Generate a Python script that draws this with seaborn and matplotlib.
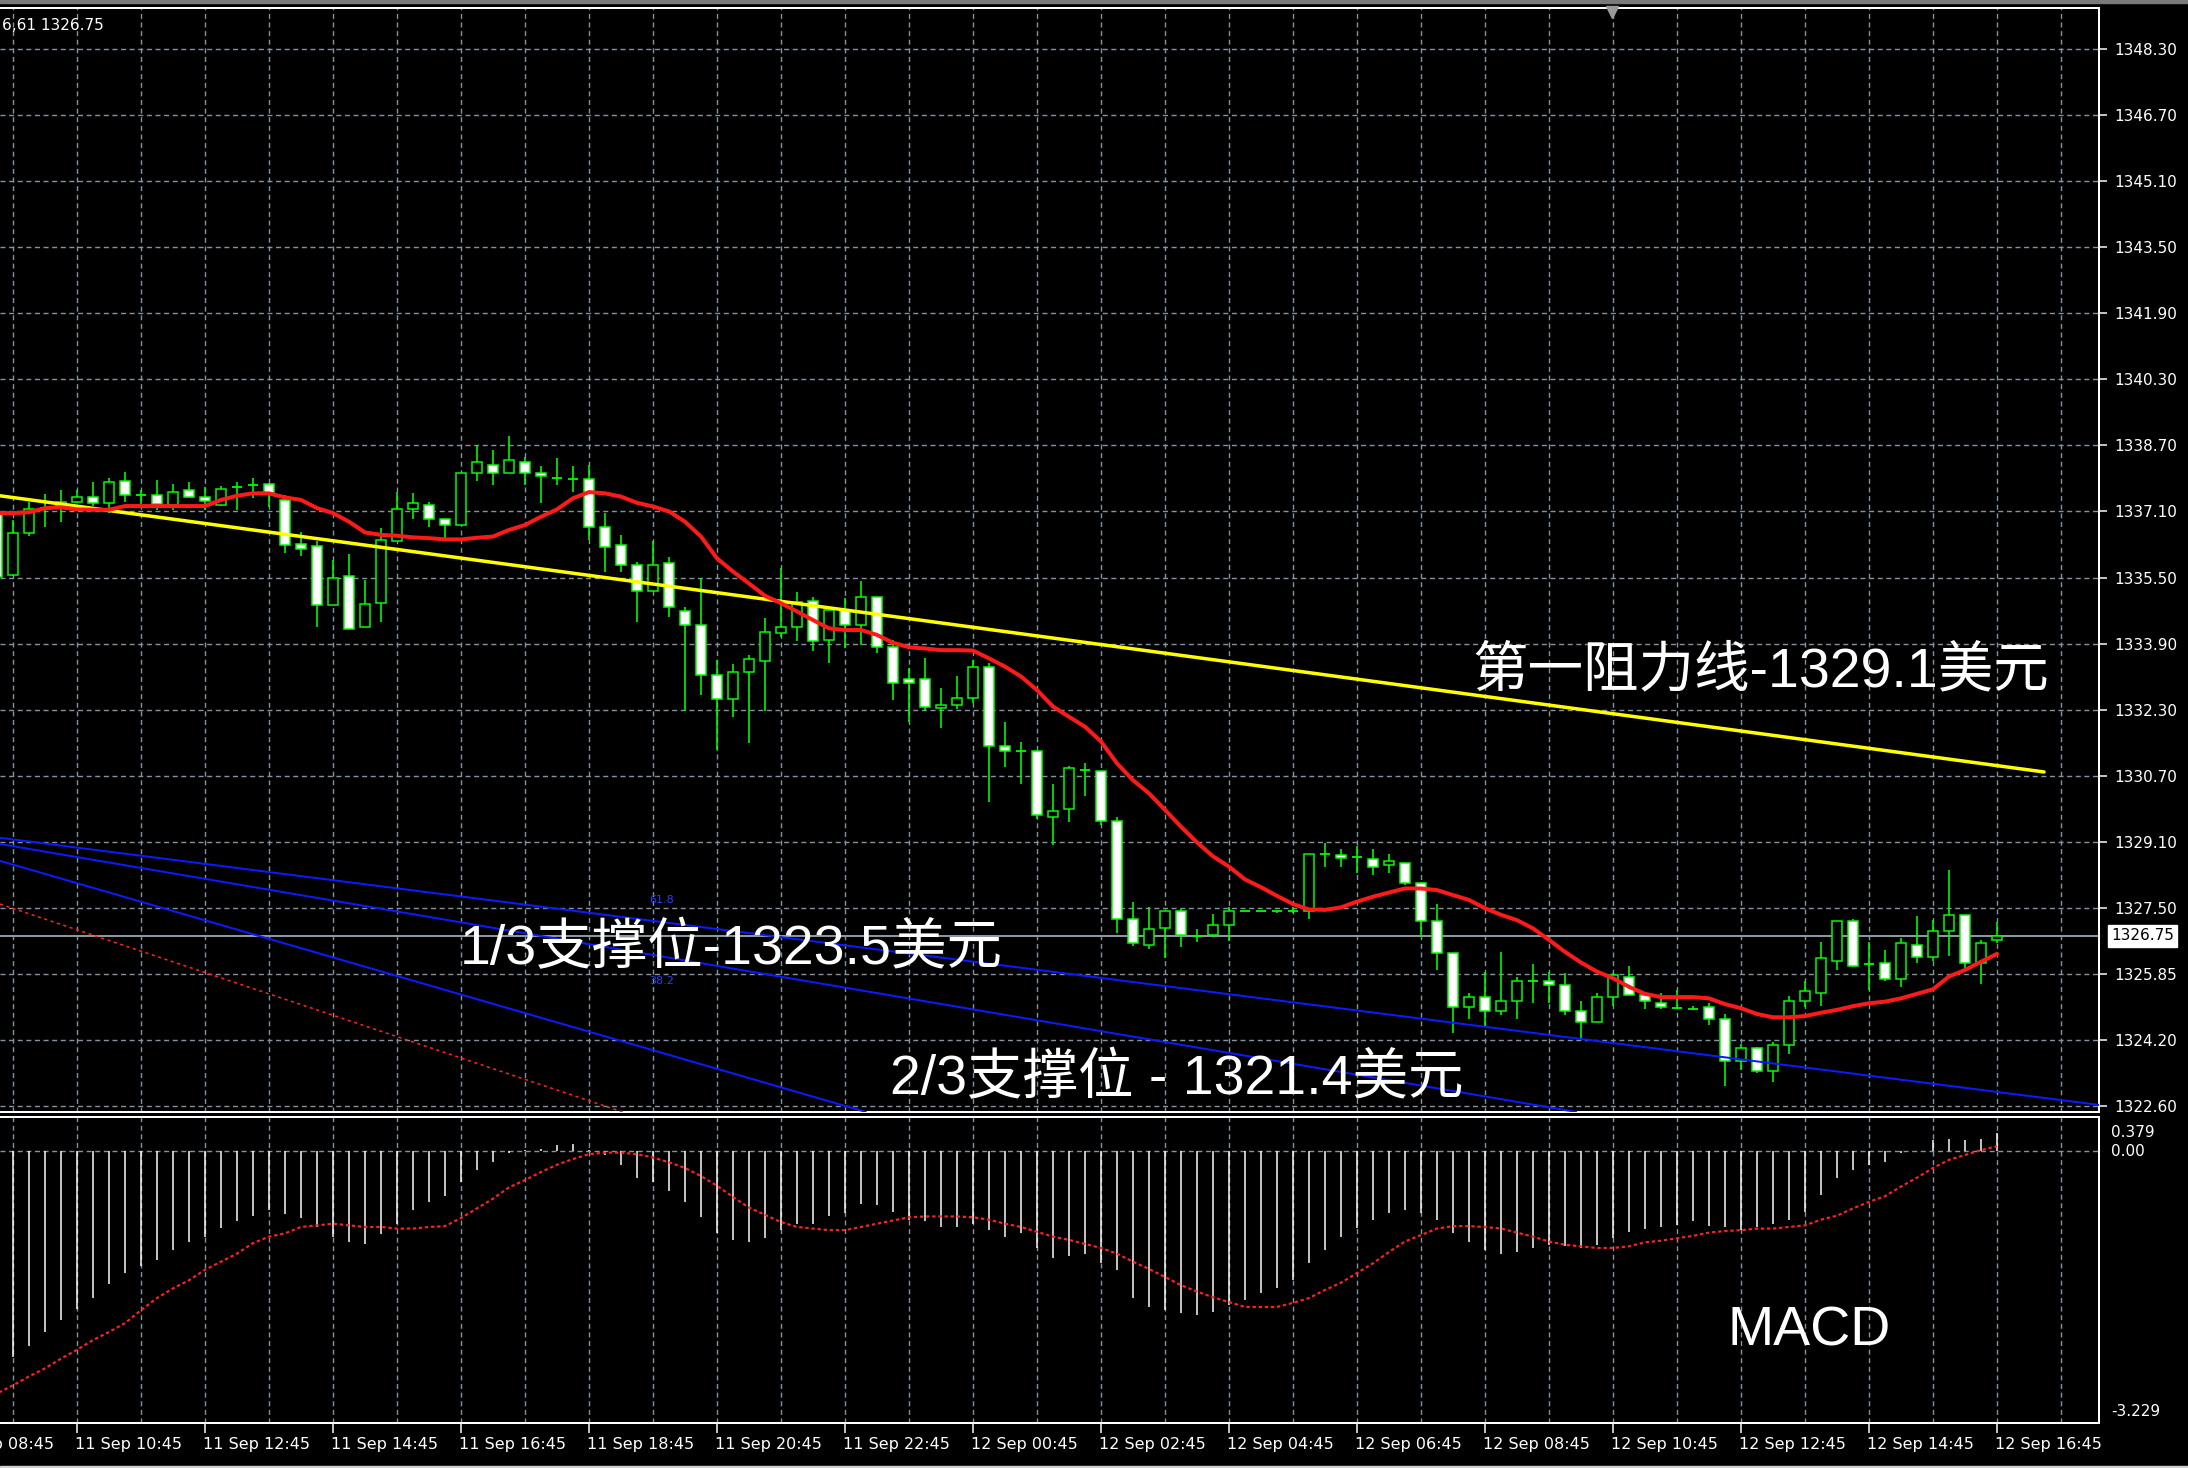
import numpy as np
import pandas as pd
import seaborn as sns
import matplotlib
matplotlib.use("Agg")
import matplotlib.pyplot as plt
from matplotlib import transforms
from matplotlib.patches import Rectangle

# ---------------- data ----------------
bar_n = np.arange(3, 129)  # 15-minute bars, n=0 is 11 Sep 08:45

opens = [1337.00, 1335.52, 1336.53, 1337.15, 1337.20, 1337.30, 1337.42, 1337.26, 1337.81, 1337.45,
         1337.46, 1337.22, 1337.57, 1337.42, 1337.22, 1337.65, 1337.71, 1337.72, 1337.34, 1336.26,
         1336.21, 1334.79, 1335.48, 1334.25, 1334.83, 1336.35, 1337.11, 1337.22, 1336.87, 1336.73,
         1337.99, 1338.20, 1337.99, 1338.25, 1338.00, 1337.88, 1337.85, 1337.85, 1336.69, 1336.25,
         1335.76, 1335.13, 1335.80, 1334.64, 1334.30, 1333.09, 1332.50, 1333.15, 1333.43, 1334.10,
         1334.25, 1334.88, 1333.94, 1334.67, 1334.30, 1334.97, 1333.77, 1333.00, 1333.00, 1332.28,
         1332.36, 1332.52, 1333.29, 1331.35, 1331.25, 1331.25, 1329.64, 1329.82, 1330.78, 1330.76,
         1329.54, 1327.16, 1326.53, 1326.93, 1327.36, 1326.75, 1326.77, 1327.01, 1327.36, 1327.36,
         1327.36, 1327.36, 1327.36, 1328.73, 1328.71, 1328.66, 1328.62, 1328.47, 1328.53, 1328.04,
         1327.12, 1326.34, 1325.01, 1325.27, 1324.93, 1325.17, 1325.66, 1325.65, 1325.55, 1324.92,
         1324.65, 1325.27, 1325.76, 1325.31, 1325.12, 1325.00, 1324.96, 1325.03, 1324.73, 1323.71,
         1324.02, 1323.47, 1324.10, 1325.17, 1325.35, 1326.14, 1327.12, 1326.06, 1326.10, 1325.69,
         1326.53, 1326.23, 1326.87, 1327.25, 1326.08, 1326.65]
highs = [1337.02, 1336.85, 1337.30, 1337.49, 1337.58, 1337.58, 1337.78, 1337.87, 1338.01, 1337.58,
         1337.83, 1337.72, 1337.77, 1337.66, 1337.68, 1337.78, 1337.87, 1337.74, 1337.46, 1336.55,
         1336.33, 1335.88, 1336.03, 1335.40, 1336.65, 1337.54, 1337.50, 1337.30, 1336.87, 1338.00,
         1338.68, 1338.55, 1338.89, 1338.39, 1338.17, 1338.35, 1338.17, 1338.19, 1337.03, 1336.49,
         1335.82, 1336.33, 1335.96, 1334.75, 1335.44, 1333.45, 1333.35, 1333.57, 1334.47, 1335.68,
         1335.10, 1334.99, 1334.67, 1334.95, 1335.38, 1334.97, 1333.94, 1333.25, 1333.49, 1332.76,
         1333.05, 1333.45, 1333.37, 1331.94, 1331.45, 1331.25, 1330.44, 1330.88, 1330.96, 1330.76,
         1329.64, 1327.58, 1327.46, 1327.36, 1327.39, 1326.92, 1327.27, 1327.46, 1327.36, 1327.36,
         1327.36, 1327.44, 1328.73, 1329.01, 1328.87, 1328.93, 1328.87, 1328.74, 1328.53, 1328.06,
         1327.52, 1326.34, 1325.37, 1325.88, 1326.35, 1325.76, 1326.06, 1325.88, 1325.85, 1325.17,
         1325.37, 1325.84, 1326.02, 1325.31, 1325.37, 1325.43, 1325.05, 1325.11, 1324.85, 1324.12,
         1324.06, 1324.18, 1325.29, 1325.64, 1326.61, 1327.12, 1327.17, 1326.61, 1326.40, 1326.69,
         1327.23, 1327.13, 1328.35, 1327.25, 1326.65, 1327.09]
lows = [1335.45, 1335.50, 1336.46, 1336.67, 1336.81, 1337.26, 1337.19, 1337.03, 1337.30, 1337.24,
        1337.10, 1337.10, 1337.38, 1337.10, 1337.19, 1337.10, 1337.38, 1337.16, 1336.04, 1335.98,
        1334.25, 1334.79, 1334.21, 1334.25, 1334.38, 1336.35, 1336.87, 1336.67, 1336.37, 1336.73,
        1337.79, 1337.69, 1337.99, 1337.69, 1337.26, 1337.69, 1337.54, 1336.37, 1335.60, 1335.60,
        1334.38, 1335.13, 1334.49, 1332.20, 1332.59, 1331.27, 1332.06, 1331.43, 1332.20, 1334.00,
        1333.90, 1333.66, 1333.37, 1333.73, 1333.81, 1333.61, 1332.49, 1331.95, 1332.20, 1331.81,
        1332.26, 1332.40, 1330.01, 1330.84, 1330.45, 1329.58, 1328.96, 1329.52, 1330.15, 1329.43,
        1326.81, 1326.51, 1326.42, 1326.20, 1326.47, 1326.61, 1326.72, 1326.63, 1327.36, 1327.36,
        1327.30, 1327.30, 1327.15, 1328.41, 1328.41, 1328.28, 1328.23, 1328.27, 1327.98, 1326.71,
        1325.93, 1324.38, 1324.72, 1324.56, 1324.83, 1324.72, 1325.11, 1325.11, 1324.83, 1324.23,
        1324.65, 1325.05, 1325.31, 1324.96, 1324.96, 1324.96, 1324.94, 1324.58, 1323.10, 1323.49,
        1323.41, 1323.20, 1323.89, 1325.03, 1325.05, 1325.92, 1325.98, 1325.43, 1325.64, 1325.50,
        1326.08, 1326.14, 1326.26, 1325.96, 1325.59, 1326.57]
closes = [1335.47, 1336.53, 1337.12, 1337.15, 1337.28, 1337.42, 1337.27, 1337.77, 1337.46, 1337.45,
          1337.24, 1337.52, 1337.42, 1337.32, 1337.61, 1337.65, 1337.71, 1337.50, 1336.25, 1336.14,
          1334.79, 1335.44, 1334.21, 1334.81, 1336.37, 1337.13, 1337.27, 1336.87, 1336.73, 1338.00,
          1338.25, 1338.00, 1338.30, 1338.00, 1337.91, 1337.88, 1337.85, 1336.68, 1336.19, 1335.76,
          1335.13, 1335.76, 1334.75, 1334.30, 1333.09, 1332.50, 1333.15, 1333.48, 1334.12, 1334.26,
          1334.87, 1333.92, 1334.67, 1334.30, 1334.99, 1333.77, 1332.88, 1332.90, 1332.32, 1332.36,
          1332.52, 1333.29, 1331.35, 1331.25, 1331.25, 1329.68, 1329.79, 1330.82, 1330.78, 1329.55,
          1327.16, 1326.57, 1326.91, 1327.36, 1326.77, 1326.75, 1327.01, 1327.36, 1327.36, 1327.36,
          1327.36, 1327.36, 1328.73, 1328.73, 1328.63, 1328.66, 1328.43, 1328.57, 1328.04, 1327.12,
          1326.34, 1325.03, 1325.27, 1324.93, 1325.17, 1325.66, 1325.66, 1325.55, 1324.93, 1324.65,
          1325.27, 1325.80, 1325.31, 1325.17, 1325.03, 1325.00, 1324.96, 1324.73, 1323.71, 1324.02,
          1323.47, 1324.10, 1325.17, 1325.42, 1326.20, 1327.12, 1326.02, 1326.06, 1325.69, 1326.58,
          1326.24, 1326.87, 1327.25, 1326.08, 1326.58, 1326.75]

ma_line = [1337.02, 1337.02, 1337.04, 1337.14, 1337.16, 1337.11, 1337.10, 1337.10, 1337.19, 1337.19,
           1337.19, 1337.19, 1337.19, 1337.19, 1337.34, 1337.44, 1337.50, 1337.50, 1337.40, 1337.34,
           1337.14, 1337.02, 1336.81, 1336.55, 1336.49, 1336.47, 1336.43, 1336.41, 1336.38, 1336.38,
           1336.42, 1336.45, 1336.61, 1336.73, 1336.93, 1337.11, 1337.38, 1337.53, 1337.50, 1337.42,
           1337.27, 1337.18, 1337.06, 1336.81, 1336.45, 1335.92, 1335.60, 1335.31, 1335.01, 1334.83,
           1334.63, 1334.42, 1334.22, 1334.18, 1334.18, 1334.06, 1333.87, 1333.76, 1333.73, 1333.69,
           1333.69, 1333.68, 1333.49, 1333.29, 1333.05, 1332.72, 1332.32, 1332.07, 1331.83, 1331.47,
           1330.94, 1330.53, 1330.21, 1329.81, 1329.40, 1329.02, 1328.68, 1328.43, 1328.12, 1327.93,
           1327.72, 1327.52, 1327.39, 1327.38, 1327.44, 1327.58, 1327.70, 1327.80, 1327.90, 1327.90,
           1327.86, 1327.74, 1327.62, 1327.42, 1327.26, 1327.13, 1326.93, 1326.65, 1326.36, 1326.10,
           1325.88, 1325.72, 1325.51, 1325.34, 1325.26, 1325.26, 1325.26, 1325.23, 1325.09, 1324.99,
           1324.85, 1324.77, 1324.77, 1324.80, 1324.88, 1324.95, 1325.04, 1325.11, 1325.15, 1325.23,
           1325.34, 1325.45, 1325.76, 1325.92, 1326.12, 1326.31]

macd_hist = [-2.70, -2.55, -2.41, -2.24, -2.09, -1.96, -1.82, -1.64, -1.51, -1.42,
             -1.35, -1.23, -1.12, -1.07, -0.95, -0.87, -0.80, -0.73, -0.78, -0.83,
             -0.94, -1.07, -1.12, -1.15, -1.03, -0.90, -0.73, -0.63, -0.56, -0.38,
             -0.24, -0.13, -0.03, 0.01, 0.03, 0.07, 0.09, 0.01, -0.05, -0.17,
             -0.33, -0.38, -0.50, -0.63, -0.82, -1.02, -1.10, -1.12, -1.08, -0.98,
             -0.90, -0.90, -0.80, -0.77, -0.65, -0.67, -0.75, -0.85, -0.87, -0.94,
             -0.94, -0.90, -0.98, -1.06, -1.02, -1.20, -1.32, -1.30, -1.28, -1.38,
             -1.47, -1.82, -1.93, -1.97, -2.01, -2.03, -1.99, -1.91, -1.84, -1.76,
             -1.69, -1.60, -1.39, -1.23, -1.06, -0.95, -0.85, -0.77, -0.73, -0.77,
             -0.85, -1.02, -1.12, -1.23, -1.27, -1.25, -1.20, -1.16, -1.18, -1.20,
             -1.16, -1.08, -1.00, -0.96, -0.94, -0.92, -0.87, -0.93, -0.94, -0.98,
             -0.94, -0.90, -0.85, -0.75, -0.54, -0.34, -0.24, -0.17, -0.13, -0.03,
             0.00, 0.14, 0.15, 0.14, 0.15, 0.22]
macd_signal = [-3.00, -2.90, -2.79, -2.69, -2.57, -2.46, -2.34, -2.24, -2.13, -1.97,
               -1.82, -1.70, -1.60, -1.47, -1.37, -1.27, -1.14, -1.06, -1.02, -0.94,
               -0.92, -0.90, -0.92, -0.94, -0.94, -0.96, -0.96, -0.94, -0.93, -0.83,
               -0.71, -0.59, -0.45, -0.36, -0.26, -0.17, -0.10, -0.04, -0.02, -0.02,
               -0.04, -0.08, -0.14, -0.21, -0.31, -0.43, -0.57, -0.70, -0.79, -0.88,
               -0.94, -0.96, -0.98, -0.98, -0.94, -0.90, -0.86, -0.82, -0.81, -0.81,
               -0.81, -0.82, -0.85, -0.90, -0.94, -1.00, -1.06, -1.10, -1.15, -1.20,
               -1.27, -1.37, -1.46, -1.56, -1.66, -1.74, -1.81, -1.87, -1.93, -1.93,
               -1.93, -1.88, -1.82, -1.72, -1.63, -1.51, -1.39, -1.25, -1.12, -1.04,
               -0.96, -0.93, -0.93, -0.94, -0.96, -1.01, -1.06, -1.12, -1.16, -1.18,
               -1.20, -1.20, -1.18, -1.13, -1.11, -1.08, -1.05, -1.01, -0.99, -0.98,
               -0.96, -0.96, -0.94, -0.92, -0.85, -0.80, -0.71, -0.63, -0.56, -0.44,
               -0.33, -0.21, -0.11, -0.05, 0.01, 0.06]

# trend / fan lines (bar index, price)
resist_x = [3.19, 130.94]
resist_y = [1337.44, 1330.73]
fan1_x = [3.19, 134.4]
fan1_y = [1329.13, 1322.64]
fan2_x = [3.19, 101.7]
fan2_y = [1328.98, 1322.47]
fan3_x = [3.19, 57.3]
fan3_y = [1328.57, 1322.47]
reddot_x = [3.19, 42.1]
reddot_y = [1327.52, 1322.47]

current_price = 1326.75
price_labels = ["1348.30", "1346.70", "1345.10", "1343.50", "1341.90", "1340.30", "1338.70",
                "1337.10", "1335.50", "1333.90", "1332.30", "1330.70", "1329.10", "1327.50",
                "1325.85", "1324.20", "1322.60"]
time_labels = ["11 Sep 08:45", "11 Sep 10:45", "11 Sep 12:45", "11 Sep 14:45", "11 Sep 16:45",
               "11 Sep 18:45", "11 Sep 20:45", "11 Sep 22:45", "12 Sep 00:45", "12 Sep 02:45",
               "12 Sep 04:45", "12 Sep 06:45", "12 Sep 08:45", "12 Sep 10:45", "12 Sep 12:45",
               "12 Sep 14:45", "12 Sep 16:45"]
time_label_n = [0, 8, 16, 24, 32, 40, 48, 56, 64, 72, 80, 88, 96, 104, 112, 120, 128]
macd_labels = [("0.379", 0.235), ("0.00", 0.0), ("-3.229", -3.229)]

# ---------------- style ----------------
sns.set_theme(style="dark")
plt.rcParams["font.family"] = ["Liberation Sans", "Noto Sans CJK SC", "DejaVu Sans"]
plt.rcParams["axes.unicode_minus"] = False
plt.rcParams["lines.scale_dashes"] = False

W, H, DPI = 2188, 1468, 100


def pt(px):
    return px * 72.0 / DPI


LIME = "#00ff00"
GRID = "#8593a0"
fig = plt.figure(figsize=(W / DPI, H / DPI), dpi=DPI, facecolor="black")

ax = fig.add_axes([0, 1 - 1112 / H, 2099 / W, 1104 / H])
axm = fig.add_axes([0, 1 - 1423 / H, 2099 / W, 306 / H])

XMIN, XMAX = 3.1875, 134.375
for a in (ax, axm):
    a.set_facecolor("black")
    a.set_xlim(XMIN, XMAX)
    a.grid(False)
    for s in ("top", "right", "bottom"):
        a.spines[s].set_color("white")
        a.spines[s].set_linewidth(pt(2))
        a.spines[s].set_visible(True)
    a.spines["left"].set_visible(False)

ax.set_ylim(1322.469, 1349.291)
axm.set_ylim(-3.366, 0.4208)

grid_kw = dict(color=GRID, lw=pt(1.4), dashes=(3.6, 2.6), zorder=1)
price_ticks = [1348.30 - k * 1.6059 for k in range(len(price_labels))]
for yv in price_ticks:
    ax.axhline(yv, **grid_kw)
for xv in range(4, 135, 4):
    ax.axvline(xv, **grid_kw)
    axm.axvline(xv, **grid_kw)
axm.axhline(0.0, **grid_kw)

# price axis
ax.yaxis.tick_right()
ax.set_yticks(price_ticks)
ax.set_yticklabels(price_labels, fontfamily="DejaVu Sans")
ax.tick_params(axis="y", colors="white", labelcolor="white", labelsize=11, length=6,
               width=pt(1.5), pad=5, direction="out", right=True, left=False)
ax.set_xticks([])
ax.set_xlabel("")
ax.set_ylabel("")

# current price line
ax.axhline(current_price, color="#8a96a0", lw=pt(2), zorder=2)
trans_p = transforms.blended_transform_factory(ax.transAxes, ax.transData)
ax.text(1 + 12 / 2099, current_price, f"{current_price:.2f}", transform=trans_p, ha="left",
        va="center", fontsize=11, fontfamily="DejaVu Sans", color="black", clip_on=False,
        bbox=dict(boxstyle="square,pad=0.22", fc="white", ec="white"), zorder=10)

# candles
O = np.array(opens); Hh = np.array(highs); L = np.array(lows); C = np.array(closes)
up = C > O
dn = C < O
fl = C == O
bw = 0.58
ax.vlines(bar_n, L, Hh, color=LIME, lw=pt(1.6), zorder=3)
ax.bar(bar_n[up], (C - O)[up], bottom=O[up], width=bw, color="black", edgecolor=LIME,
       linewidth=pt(1.5), zorder=4)
ax.bar(bar_n[dn], (O - C)[dn], bottom=C[dn], width=bw, color="white", edgecolor=LIME,
       linewidth=pt(1.5), zorder=4)
ax.hlines(C[fl], bar_n[fl] - bw / 2, bar_n[fl] + bw / 2, color=LIME, lw=pt(1.8), zorder=4)

# fan lines and dotted line
for fx, fy in ((fan1_x, fan1_y), (fan2_x, fan2_y), (fan3_x, fan3_y)):
    ax.plot(fx, fy, color="#0a1cff", lw=pt(2), zorder=5)
ax.plot(reddot_x, reddot_y, color="#ff2020", lw=pt(1.6), dashes=(2.2, 2.6), zorder=5)
ax.text(43.75, 1327.62, "61.8", color="#2a3cff", fontsize=8, fontfamily="DejaVu Sans",
        ha="left", va="center", zorder=6)
ax.text(43.75, 1325.65, "38.2", color="#2a3cff", fontsize=8, fontfamily="DejaVu Sans",
        ha="left", va="center", zorder=6)

# resistance line and moving average
sns.lineplot(x=resist_x, y=resist_y, ax=ax, color="#ffff00", lw=pt(3.5), zorder=6)
sns.lineplot(x=bar_n, y=ma_line, ax=ax, color="#ff1a1a", lw=pt(4), zorder=7)
ax.set_xlabel(""); ax.set_ylabel("")
ax.set_xlim(XMIN, XMAX)
ax.set_ylim(1322.469, 1349.291)

# MACD panel
axm.vlines(bar_n, 0, macd_hist, color="white", lw=pt(1.5), zorder=3)
sns.lineplot(x=bar_n, y=macd_signal, ax=axm, color="#ff2020", lw=pt(2.2), zorder=4,
             linestyle=(0, (2.4, 2.0)))
axm.set_xlabel(""); axm.set_ylabel("")
axm.set_xlim(XMIN, XMAX)
axm.set_ylim(-3.366, 0.4208)
axm.set_yticks([])
axm.set_xticks([n for n in time_label_n if n >= XMIN])
axm.set_xticklabels([])
axm.tick_params(axis="x", colors="white", length=7, width=pt(1.5), direction="out",
                bottom=True, top=False)
trans_m = transforms.blended_transform_factory(axm.transAxes, axm.transData)
for lab, v in macd_labels:
    axm.text(1 + 12 / 2099, v, lab, transform=trans_m, ha="left", va="center", fontsize=11,
             fontfamily="DejaVu Sans", color="white", clip_on=False)
trans_x = transforms.blended_transform_factory(axm.transData, axm.transAxes)
for lab, n in zip(time_labels, time_label_n):
    axm.text(n - 0.15, -21 / 306, lab, transform=trans_x, ha="left", va="center",
             fontsize=11.5, fontfamily="DejaVu Sans", color="white", clip_on=False)

# annotations
cjk = ["Liberation Sans", "Noto Sans CJK SC"]
fig.text(1472 / W, 1 - 672 / H, "第一阻力线-1329.1美元", color="white", fontsize=40,
         family=cjk, ha="left", va="center", zorder=20)
fig.text(460 / W, 1 - 950 / H, "1/3支撑位-1323.5美元", color="white", fontsize=40,
         family=cjk, ha="left", va="center", zorder=20)
fig.text(890 / W, 1 - 1080 / H, "2/3支撑位 - 1321.4美元", color="white", fontsize=40,
         family=cjk, ha="left", va="center", zorder=20)
fig.text(1728 / W, 1 - 1331 / H, "MACD", color="white", fontsize=40, family=cjk,
         ha="left", va="center", zorder=20)
fig.text(2 / W, 1 - 25 / H, "6,61 1326.75", color="white", fontsize=11,
         family="DejaVu Sans", ha="left", va="center")

# window details
fig.patches.append(Rectangle((0, 1 - 3 / H), 1, 3 / H, transform=fig.transFigure,
                             color="#7a7a7a", zorder=0))
fig.patches.append(Rectangle((0, 0), 1, 2 / H, transform=fig.transFigure,
                             color="#d0d0d0", zorder=0))
ax.plot([1612 / 2099], [1 - 4 / 1104], marker="v", markersize=9, color="#9a9a9a",
        transform=ax.transAxes, clip_on=False, zorder=10)

fig.savefig("out.png", dpi=DPI, facecolor="black")
